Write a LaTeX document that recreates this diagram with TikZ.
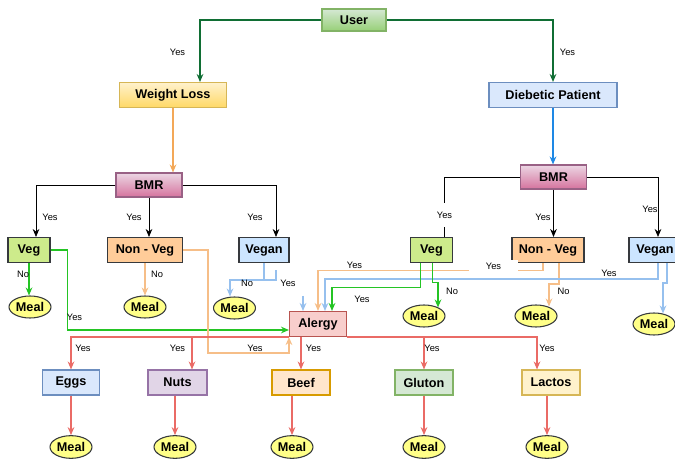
\documentclass[tikz,border=0pt]{standalone}
\usepackage{fontspec}
\setmainfont{Liberation Sans}
\usetikzlibrary{arrows.meta,positioning,calc,shapes.geometric}
\definecolor{dkgreen}{RGB}{16,110,52}
\definecolor{orng}{RGB}{243,168,88}
\definecolor{ltorng}{RGB}{246,190,136}
\definecolor{azure}{RGB}{30,136,229}
\definecolor{ltblue}{RGB}{150,192,238}
\definecolor{brgreen}{RGB}{36,196,36}
\definecolor{salmon}{RGB}{234,107,102}
\definecolor{edge}{RGB}{54,57,61}
\definecolor{grnL}{RGB}{213,232,212}\definecolor{grnM}{RGB}{151,208,119}\definecolor{grnD}{RGB}{130,179,102}
\definecolor{ylwL}{RGB}{255,242,204}\definecolor{ylwM}{RGB}{255,217,102}\definecolor{ylwD}{RGB}{214,182,86}
\definecolor{bluL}{RGB}{218,232,252}\definecolor{bluD}{RGB}{108,142,191}
\definecolor{pnkL}{RGB}{236,214,228}\definecolor{pnkM}{RGB}{213,115,157}\definecolor{pnkD}{RGB}{153,97,133}
\definecolor{redL}{RGB}{248,206,204}\definecolor{redD}{RGB}{184,84,80}
\definecolor{purL}{RGB}{225,213,231}\definecolor{purD}{RGB}{150,115,166}
\definecolor{orL}{RGB}{255,230,204}\definecolor{orD}{RGB}{215,155,0}
\definecolor{vegF}{RGB}{205,235,139}
\definecolor{nvF}{RGB}{255,204,153}
\definecolor{vgnF}{RGB}{204,229,255}
\definecolor{mealF}{RGB}{255,255,136}

\begin{document}
\begin{tikzpicture}[x=0.75pt,y=-0.75pt,>={Stealth[length=6pt,width=5pt]},every node/.style={font=\bfseries\fontsize{9.5}{11}\selectfont}]
\tikzstyle{box}=[draw,line width=0.8pt,minimum height=18.75pt,inner sep=1pt]
\tikzstyle{bmr}=[box,draw=pnkD,top color=pnkL,bottom color=pnkM,minimum width=49.5pt,minimum height=18pt]
\tikzstyle{diet}=[box,draw=edge,minimum width=31.5pt]
\tikzstyle{food}=[box,minimum width=43.5pt]
\tikzstyle{meal}=[ellipse,draw=edge,line width=0.8pt,fill=mealF,minimum width=31.5pt,minimum height=16.5pt,inner sep=0pt]
\tikzstyle{lbl}=[font=\fontsize{7}{8}\selectfont,inner sep=0pt]
\tikzstyle{gap}=[lbl,fill=white,minimum height=9pt]
\tikzstyle{wire}=[->,line width=1.1pt]
\tikzstyle{blk}=[->,line width=0.6pt,black]
\useasboundingbox (0,0) rectangle (675,459);
\clip (0,0) rectangle (675,459);
% top levels
\node[box,draw=grnD,top color=grnL,bottom color=grnM,minimum width=48pt,minimum height=16.5pt] (user) at (354,20) {User};
\node[box,draw=ylwD,top color=ylwL,bottom color=ylwM,minimum width=80pt] (wl) at (173,95) {Weight Loss};
\node[box,draw=bluD,fill=bluL,minimum width=96pt] (dp) at (553,95) {Diebetic Patient};
\node[bmr] (bmrL) at (149,185) {BMR};
\node[bmr] (bmrR) at (553.5,177) {BMR};
% diets
\node[diet,fill=vegF] (vegL) at (29,250) {Veg};
\node[diet,fill=nvF,minimum width=56.25pt] (nvL) at (145,250) {Non - Veg};
\node[diet,fill=vgnF,minimum width=37.5pt] (vgL) at (264,250) {Vegan};
\node[diet,fill=vegF] (vegR) at (431.5,250) {Veg};
\node[diet,fill=nvF,minimum width=54pt] (nvR) at (548,250) {Non - Veg};
\node[diet,fill=vgnF,minimum width=39pt] (vgR) at (655,250) {Vegan};
\node[meal] (m1) at (30,307) {Meal};
\node[meal] (m2) at (145,307) {Meal};
\node[meal] (m3) at (234.5,308) {Meal};
\node[meal] (m4) at (424,316) {Meal};
\node[meal] (m5) at (536,316) {Meal};
\node[meal] (m6) at (654,324) {Meal};
% allergies
\node[box,draw=redD,fill=redL,minimum width=42.75pt] (alg) at (318,324) {Alergy};
\node[food,draw=bluD,fill=bluL,minimum width=42.75pt] (eggs) at (71,382.5) {Eggs};
\node[food,draw=purD,fill=purL,minimum width=44.25pt] (nuts) at (177.5,382.5) {Nuts};
\node[food,draw=orD,fill=orL] (beef) at (301,382.5) {Beef};
\node[food,draw=grnD,fill=grnL] (gluton) at (424,382.5) {Gluton};
\node[food,draw=ylwD,fill=ylwL] (lactos) at (551,382.5) {Lactos};
\node[meal,minimum height=17pt] (m7) at (71,447) {Meal};
\node[meal,minimum height=17pt] (m8) at (175,447) {Meal};
\node[meal,minimum height=17pt] (m9) at (292,447) {Meal};
\node[meal,minimum height=17pt] (m10) at (424,447) {Meal};
\node[meal,minimum height=17pt] (m11) at (547,447) {Meal};
% connectors
\draw[wire,dkgreen] (user.west) -| ($(wl.north)+(27,0)$);
\draw[wire,dkgreen] (user.east) -| (dp.north);
\draw[wire,orng] (wl.south) -- (wl.south |- bmrL.north);
\draw[wire,azure] (dp.south) -- (dp.south |- bmrR.north);
\draw[blk] (bmrL.west) -| ($(vegL.north)+(7,0)$);
\draw[blk] (bmrL.south) -- (bmrL.south |- nvL.north);
\draw[blk] (bmrL.east) -| ($(vgL.north)+(12,0)$);
\draw[blk,-] (bmrR.west) -| ($(vegR.north)+(13,0)$);
\draw[blk] (bmrR.south) -- (bmrR.south |- nvR.north);
\draw[blk] (bmrR.east) -| ($(vgR.north)+(3,0)$);
\draw[wire,brgreen] (vegL.south) -- (vegL.south |- m1.north);
\draw[wire,brgreen] (vegL.east) -- ++(17,0) |- ($(alg.west)+(0,6)$);
\draw[wire,ltorng] (nvL.south) -- (nvL.south |- m2.north);
\draw[wire,ltorng] (nvL.east) -- ++(25,0) |- ($(alg.south west)+(0,16)$) -- (alg.south west);
\draw[wire,ltblue] (vgL.south) -- ++(0,17) -| ($(m3.north)+(-4.5,0)$);
\draw[ltblue,line width=1.1pt] ($(vgL.south)+(0,17)$) -| ++(12,-10);
\draw[wire,ltblue] ($(alg.north)+(-15,-15)$) -- ($(alg.north)+(-15,0)$);
\draw[wire,ltorng] ($(nvR.south)+(-5,0)$) -- ++(0,7.5) -| (alg.north);
\draw[wire,ltorng] ($(nvR.south)+(11,0)$) -- ++(0,21) -| ($(m5.north)+(13,2)$);
\draw[wire,ltblue] ($(vgR.south)+(3,0)$) -- ++(0,16) -| ($(alg.north)+(7,0)$);
\draw[wire,ltblue] ($(vgR.south)+(12,0)$) -- ++(0,20) -| ($(m6.north)+(9,1)$);
\draw[wire,brgreen] ($(vegR.south)+(-11,0)$) -- ++(0,24.5) -| ($(alg.north)+(14,0)$);
\draw[wire,brgreen] ($(vegR.south)+(1,0)$) -- ++(0,19.5) -| ($(m4.north)+(14,3)$);
\draw[wire,salmon] (alg.south west) -| (eggs.north);
\draw[wire,salmon] (alg.south west) -| ($(nuts.north)+(14.5,0)$);
\draw[wire,salmon] (beef.north |- alg.south) -- (beef.north);
\draw[wire,salmon] (alg.south east) -| (gluton.north);
\draw[wire,salmon] (alg.south east) -| ($(lactos.north)+(-14,0)$);
\foreach \f/\m in {eggs/m7,nuts/m8,beef/m9,gluton/m10,lactos/m11}
  \draw[wire,salmon] (\m.north |- \f.south) -- (\m.north);
% labels
\foreach \p in {(177.5,52.5),(567.5,52.5),(50,217),(134,217),(255,217),(543,217),(650,209),(74.5,317),(288,283),(354.5,265),(362,299),(609,273),(83,348),(177.5,348),(255,348),(313.5,348),(432,348),(547,348)}
  \node[lbl] at \p {Yes};
\node[gap,minimum height=18pt] at (444.5,215) {Yes};
\node[gap,minimum width=36.75pt] at (493.5,266.5) {Yes};
\foreach \p in {(23,274),(157,274),(247,283),(452,291),(563.5,291)}
  \node[lbl] at \p {No};
\end{tikzpicture}
\end{document}
